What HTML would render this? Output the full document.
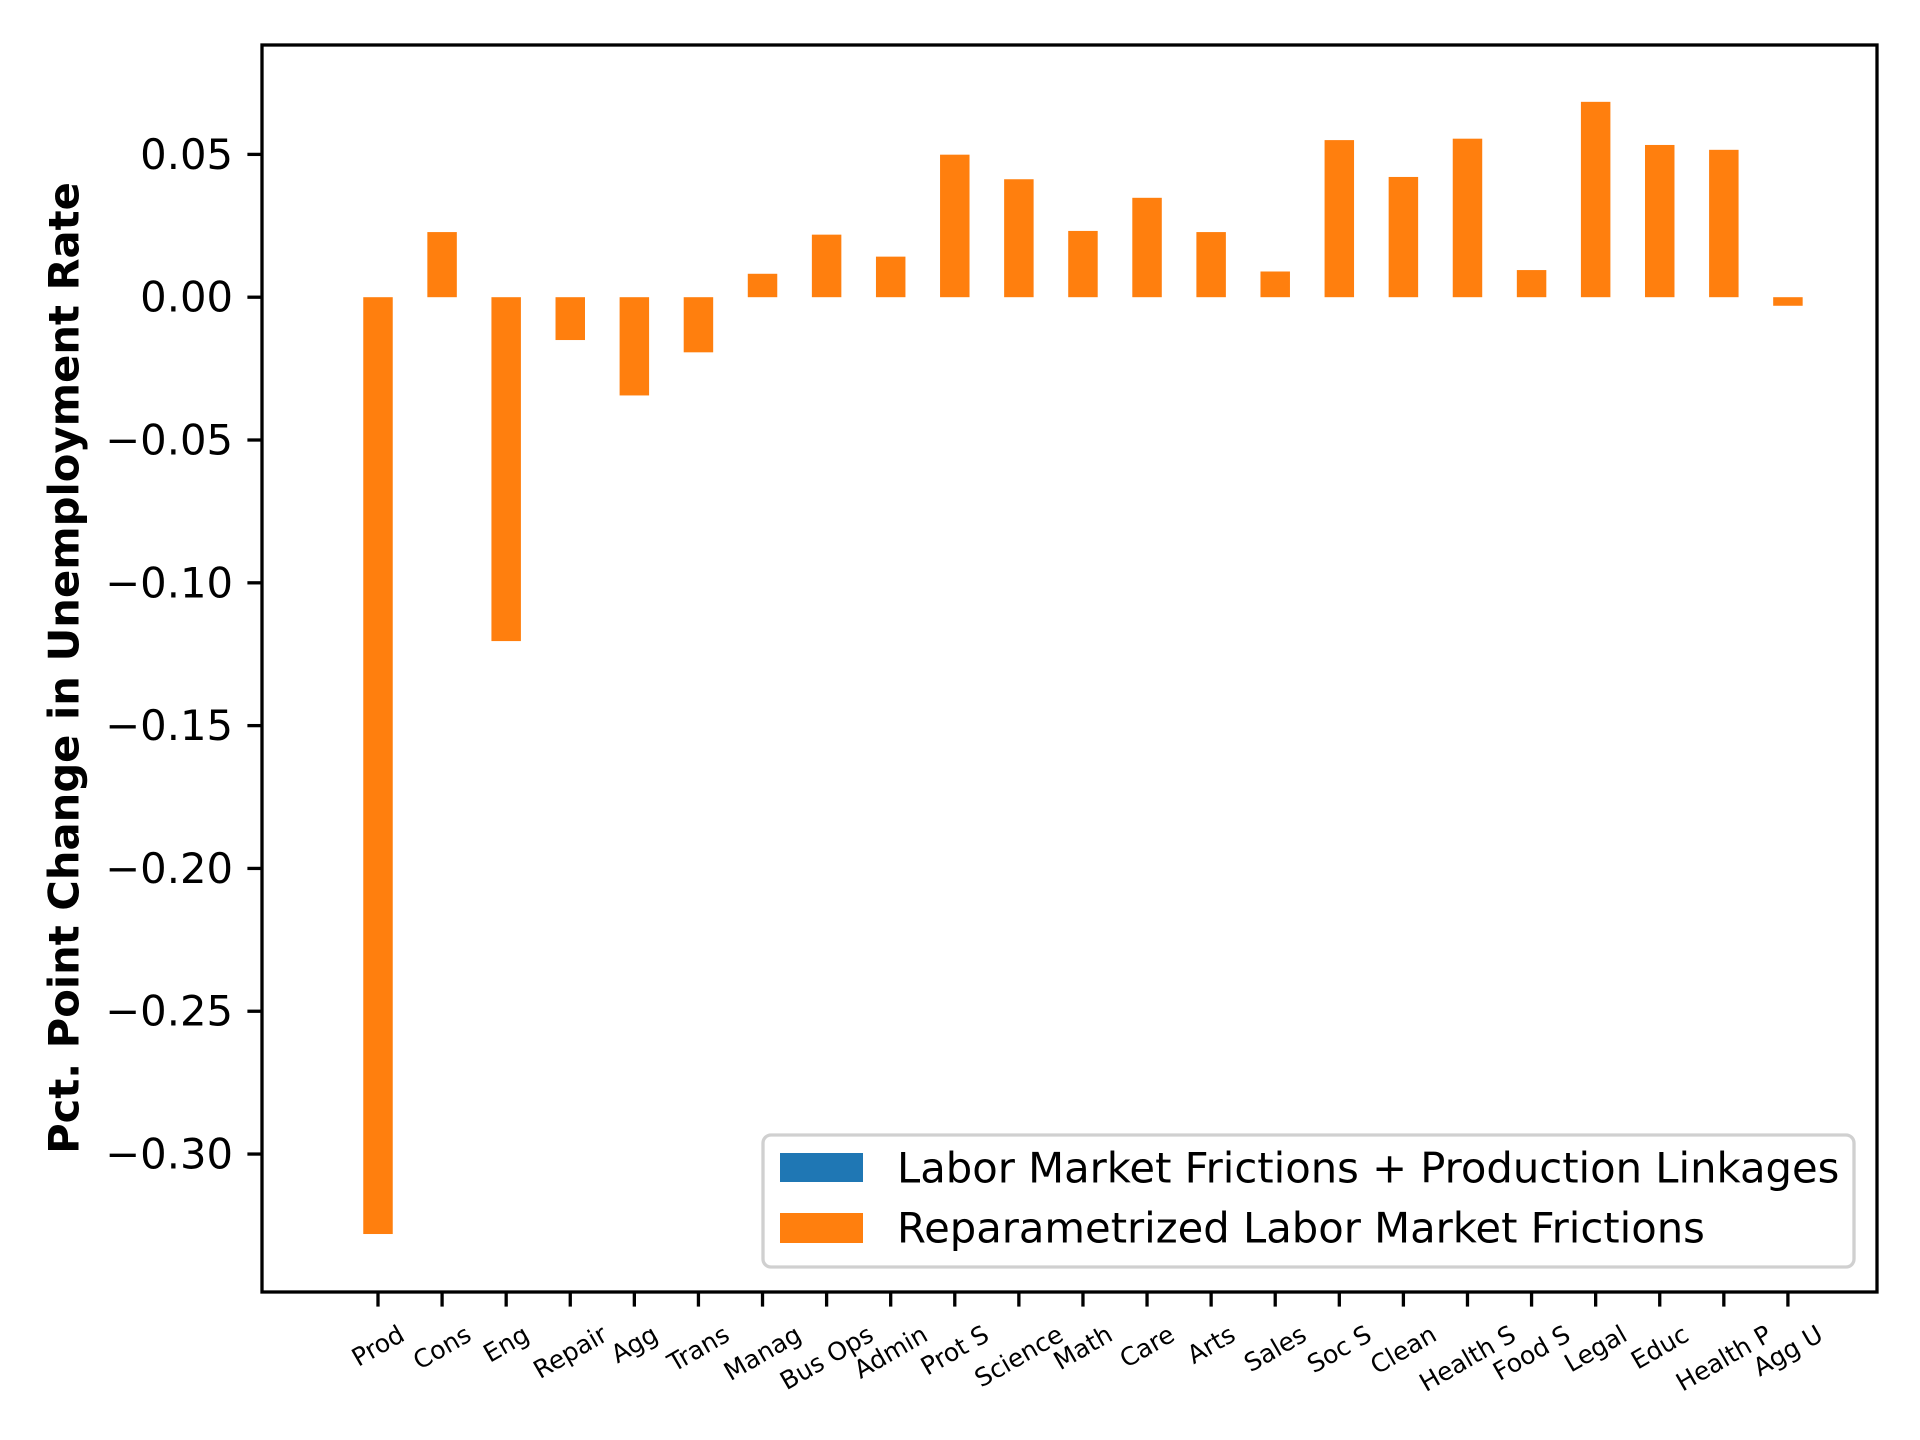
<!DOCTYPE html>
<html><head><meta charset="utf-8"><style>
html,body{margin:0;padding:0;background:#fff;}
svg{display:block;font-family:"DejaVu Sans","Liberation Sans",sans-serif;}
</style></head><body>
<svg id="chart" width="1920" height="1440" viewBox="0 0 1920 1440">
<rect width="1920" height="1440" fill="#fff"/>
<g id="bars"></g>
<g id="yaxis"></g>
<g id="xaxis"></g>
<rect x="262" y="45" width="1615" height="1247" fill="none" stroke="#000" stroke-width="3.3"/>
<text x="64" y="668" transform="rotate(-90 64 668)" text-anchor="middle" dominant-baseline="central" font-size="41.7" font-weight="bold">Pct. Point Change in Unemployment Rate</text>
<g>
<rect x="763" y="1135" width="1091" height="132" rx="8" fill="#fff" fill-opacity="0.8" stroke="#d0d0d0" stroke-width="3.3"/>
<g>
<rect x="780" y="1153" width="83" height="29" fill="#1f77b4"/>
<text x="897" y="1168" dominant-baseline="central" font-size="41.7">Labor Market Frictions + Production Linkages</text>
</g>
<g>
<rect x="780" y="1213" width="83" height="30" fill="#ff7f0e"/>
<text x="897" y="1228" dominant-baseline="central" font-size="41.7">Reparametrized Labor Market Frictions</text>
</g>
</g>
</svg>
<script>
const categories = ["Prod","Cons","Eng","Repair","Agg","Trans","Manag","Bus Ops","Admin","Prot S","Science","Math","Care","Arts","Sales","Soc S","Clean","Health S","Food S","Legal","Educ","Health P","Agg U"];
const reparamValues = [-0.328,0.0228,-0.1204,-0.0150,-0.0344,-0.0193,0.0082,0.0219,0.0142,0.0499,0.0413,0.0232,0.0348,0.0228,0.0090,0.0550,0.0421,0.0555,0.0095,0.0684,0.0533,0.0516,-0.0030];
const linkageValues = [0,0,0,0,0,0,0,0,0,0,0,0,0,0,0,0,0,0,0,0,0,0,0];
const yTicks = [0.05,0.00,-0.05,-0.10,-0.15,-0.20,-0.25,-0.30];
const yTickLabels = ["0.05","0.00","\u22120.05","\u22120.10","\u22120.15","\u22120.20","\u22120.25","\u22120.30"];

const NS = "http://www.w3.org/2000/svg";
const L=262,R=1877,T=45,B=1292;
const xMin=-1.81,xMax=23.39,yMin=-0.3483,yMax=0.0883;
const xs = i => L + (i - xMin)/(xMax - xMin)*(R-L);
const ys = v => B - (v - yMin)/(yMax - yMin)*(B-T);
const unit = (R-L)/(xMax-xMin);
const bw = 0.46*unit;

const bars = document.getElementById('bars');
reparamValues.forEach((v,i)=>{
  const r = document.createElementNS(NS,'rect');
  const y0 = ys(0), y1 = ys(v);
  r.setAttribute('x', xs(i)-bw/2);
  r.setAttribute('y', Math.min(y0,y1));
  r.setAttribute('width', bw);
  r.setAttribute('height', Math.abs(y1-y0));
  r.setAttribute('fill', '#ff7f0e');
  
  
  bars.appendChild(r);
});
linkageValues.forEach((v,i)=>{
  if (v === 0) return;
  const r = document.createElementNS(NS,'rect');
  const y0 = ys(0), y1 = ys(v);
  r.setAttribute('x', xs(i)-bw/2);
  r.setAttribute('y', Math.min(y0,y1));
  r.setAttribute('width', bw);
  r.setAttribute('height', Math.abs(y1-y0));
  r.setAttribute('fill', '#1f77b4');
  
  
  bars.appendChild(r);
});

const ya = document.getElementById('yaxis');
yTicks.forEach((t,i)=>{
  const y = ys(t);
  const ln = document.createElementNS(NS,'line');
  ln.setAttribute('x1', L-14.6); ln.setAttribute('x2', L);
  ln.setAttribute('y1', y); ln.setAttribute('y2', y);
  ln.setAttribute('stroke','#000'); ln.setAttribute('stroke-width','3.3');
  
  
  ya.appendChild(ln);
  const tx = document.createElementNS(NS,'text');
  tx.setAttribute('x', L-29); tx.setAttribute('y', y);
  tx.setAttribute('text-anchor','end'); tx.setAttribute('dominant-baseline','central');
  tx.setAttribute('font-size','41.7');
  tx.textContent = yTickLabels[i];
  
  
  ya.appendChild(tx);
});

const xa = document.getElementById('xaxis');
categories.forEach((c,i)=>{
  const x = xs(i);
  const ln = document.createElementNS(NS,'line');
  ln.setAttribute('x1', x); ln.setAttribute('x2', x);
  ln.setAttribute('y1', B); ln.setAttribute('y2', B+14.6);
  ln.setAttribute('stroke','#000'); ln.setAttribute('stroke-width','3.3');
  
  
  xa.appendChild(ln);
  const tx = document.createElementNS(NS,'text');
  tx.setAttribute('text-anchor','middle'); tx.setAttribute('dominant-baseline','central');
  tx.setAttribute('font-size','25');
  tx.textContent = c;
  
  
  xa.appendChild(tx);
  const w = tx.getComputedTextLength();
  const h = 25;
  const bh = w*0.5 + h*0.866;
  const cy = B + 14.6 + 14.6 + bh/2;
  tx.setAttribute('transform', 'translate(' + x + ',' + cy + ') rotate(-30)');
});
</script>
</body></html>
